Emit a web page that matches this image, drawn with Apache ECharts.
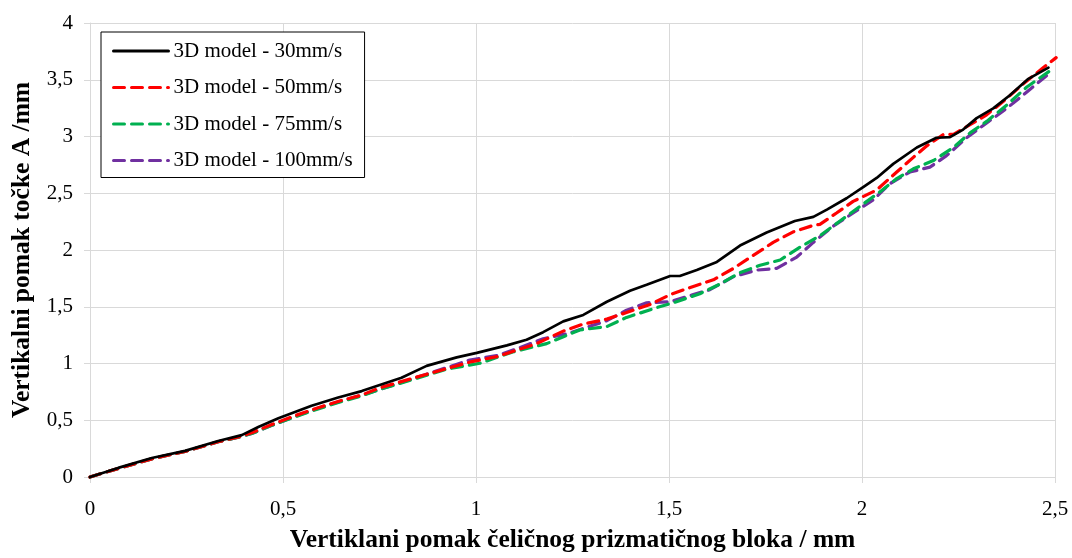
<!DOCTYPE html>
<html>
<head>
<meta charset="utf-8">
<script src="https://cdn.jsdelivr.net/npm/echarts@6/dist/echarts.min.js"></script>
<style>html,body{margin:0;padding:0;background:#fff}#c{width:1072px;height:558px}</style>
</head>
<body>
<div id="c"></div>
<script>
const seriesNames = ['3D model - 30mm/s', '3D model - 50mm/s', '3D model - 75mm/s', '3D model - 100mm/s'];
const xTicks = [0, 0.5, 1, 1.5, 2, 2.5];
const yTicks = [0, 0.5, 1, 1.5, 2, 2.5, 3, 3.5, 4];

const s30 = [[0,0],[0.073,0.08],[0.160,0.167],[0.246,0.230],[0.332,0.317],[0.393,0.369],[0.436,0.441],[0.488,0.518],[0.574,0.628],[0.643,0.700],[0.704,0.757],[0.807,0.875],[0.872,0.979],[0.950,1.054],[1.002,1.094],[1.080,1.160],[1.131,1.209],[1.174,1.276],[1.226,1.371],[1.278,1.428],[1.339,1.544],[1.399,1.641],[1.442,1.693],[1.503,1.771],[1.528,1.771],[1.572,1.823],[1.624,1.895],[1.684,2.039],[1.753,2.154],[1.826,2.255],[1.874,2.292],[1.909,2.356],[1.960,2.456],[2.004,2.557],[2.038,2.635],[2.081,2.759],[2.142,2.903],[2.193,2.989],[2.228,2.995],[2.262,3.061],[2.297,3.162],[2.340,3.248],[2.383,3.363],[2.431,3.508],[2.483,3.607]];
const s50 = [[0,0],[0.073,0.075],[0.160,0.160],[0.246,0.225],[0.332,0.310],[0.393,0.360],[0.419,0.390],[0.471,0.462],[0.531,0.540],[0.591,0.610],[0.652,0.675],[0.704,0.722],[0.751,0.786],[0.868,0.901],[0.989,1.017],[1.054,1.060],[1.157,1.175],[1.226,1.285],[1.278,1.348],[1.339,1.391],[1.390,1.449],[1.451,1.520],[1.503,1.607],[1.563,1.679],[1.615,1.737],[1.667,1.838],[1.718,1.952],[1.770,2.067],[1.822,2.160],[1.874,2.217],[1.891,2.226],[1.934,2.326],[1.977,2.428],[2.038,2.529],[2.090,2.687],[2.133,2.816],[2.168,2.918],[2.211,3.018],[2.237,3.018],[2.280,3.104],[2.323,3.191],[2.375,3.335],[2.418,3.464],[2.470,3.608],[2.503,3.695]];
const s75 = [[0,0],[0.073,0.075],[0.160,0.160],[0.246,0.225],[0.332,0.310],[0.393,0.358],[0.419,0.383],[0.471,0.455],[0.531,0.530],[0.591,0.600],[0.652,0.665],[0.704,0.715],[0.751,0.772],[0.924,0.950],[1.010,1.002],[1.097,1.103],[1.183,1.175],[1.269,1.296],[1.339,1.325],[1.390,1.406],[1.468,1.492],[1.511,1.535],[1.580,1.615],[1.632,1.700],[1.684,1.800],[1.736,1.866],[1.788,1.912],[1.839,2.024],[1.891,2.126],[1.943,2.255],[1.995,2.385],[2.047,2.514],[2.090,2.629],[2.133,2.715],[2.185,2.788],[2.237,2.903],[2.280,3.032],[2.323,3.133],[2.375,3.277],[2.427,3.436],[2.487,3.579]];
const s100 = [[0,0],[0.073,0.075],[0.160,0.160],[0.246,0.225],[0.332,0.310],[0.393,0.358],[0.419,0.383],[0.471,0.455],[0.531,0.533],[0.591,0.605],[0.652,0.671],[0.704,0.720],[0.764,0.786],[0.881,0.916],[0.984,1.031],[1.054,1.069],[1.114,1.140],[1.174,1.218],[1.235,1.261],[1.287,1.319],[1.339,1.377],[1.390,1.469],[1.442,1.535],[1.503,1.544],[1.563,1.607],[1.606,1.650],[1.667,1.765],[1.727,1.823],[1.779,1.838],[1.831,1.938],[1.874,2.067],[1.926,2.211],[1.977,2.326],[2.029,2.442],[2.073,2.586],[2.124,2.687],[2.176,2.730],[2.219,2.831],[2.271,2.989],[2.323,3.119],[2.375,3.248],[2.427,3.392],[2.478,3.536]];

const colors = ['#000000', '#ff0000', '#00b050', '#7030a0'];
const datasets = [s30, s50, s75, s100];
const font = '"Liberation Serif", "Times New Roman", serif';
const fmt = v => String(v).replace('.', ',');

const chart = echarts.init(document.getElementById('c'), null, {renderer: 'canvas'});
chart.setOption({
  animation: false,
  backgroundColor: '#fff',
  grid: {left: 90, right: 17, top: 23, bottom: 72, containLabel: false},
  legend: {
    orient: 'vertical', left: 101, top: 32,
    data: seriesNames,
    borderColor: '#000', borderWidth: 1, backgroundColor: '#fff',
    padding: [7, 12, 5, 11],
    itemWidth: 55, itemHeight: 14, itemGap: 12.5,
    itemStyle: {opacity: 0},
    lineStyle: {width: 3},
    textStyle: {fontFamily: font, fontSize: 21, color: '#000', lineHeight: 24}
  },
  xAxis: {
    type: 'value', min: xTicks[0], max: xTicks[xTicks.length - 1], interval: 0.5,
    name: 'Vertiklani pomak čeličnog prizmatičnog bloka / mm',
    nameLocation: 'middle', nameGap: 50,
    nameTextStyle: {fontFamily: font, fontSize: 25.5, fontWeight: 'bold', color: '#000'},
    axisLine: {show: true, lineStyle: {color: '#d9d9d9', width: 1}},
    axisTick: {show: true, length: 6, lineStyle: {color: '#d9d9d9'}},
    axisLabel: {fontFamily: font, fontSize: 21, color: '#000', margin: 22, formatter: fmt},
    splitLine: {show: true, lineStyle: {color: '#d9d9d9', width: 1}}
  },
  yAxis: {
    type: 'value', min: yTicks[0], max: yTicks[yTicks.length - 1], interval: 0.5,
    name: 'Vertikalni pomak točke A /mm',
    nameLocation: 'middle', nameGap: 52,
    nameTextStyle: {fontFamily: font, fontSize: 25.5, fontWeight: 'bold', color: '#000'},
    axisLine: {show: true, lineStyle: {color: '#d9d9d9', width: 1}},
    axisTick: {show: true, length: 6, lineStyle: {color: '#d9d9d9'}},
    axisLabel: {fontFamily: font, fontSize: 21, color: '#000', margin: 17, formatter: fmt},
    splitLine: {show: true, lineStyle: {color: '#d9d9d9', width: 1}}
  },
  series: datasets.map((d, i) => ({
    name: seriesNames[i],
    type: 'line',
    data: d,
    symbol: 'none',
    z: 10 - i,
    clip: false,
    color: colors[i],
    lineStyle: {color: colors[i], width: i === 0 ? 2.7 : 3.2, type: i === 0 ? 'solid' : [11, 7], cap: 'round'}
  }))
});
</script>
</body>
</html>
